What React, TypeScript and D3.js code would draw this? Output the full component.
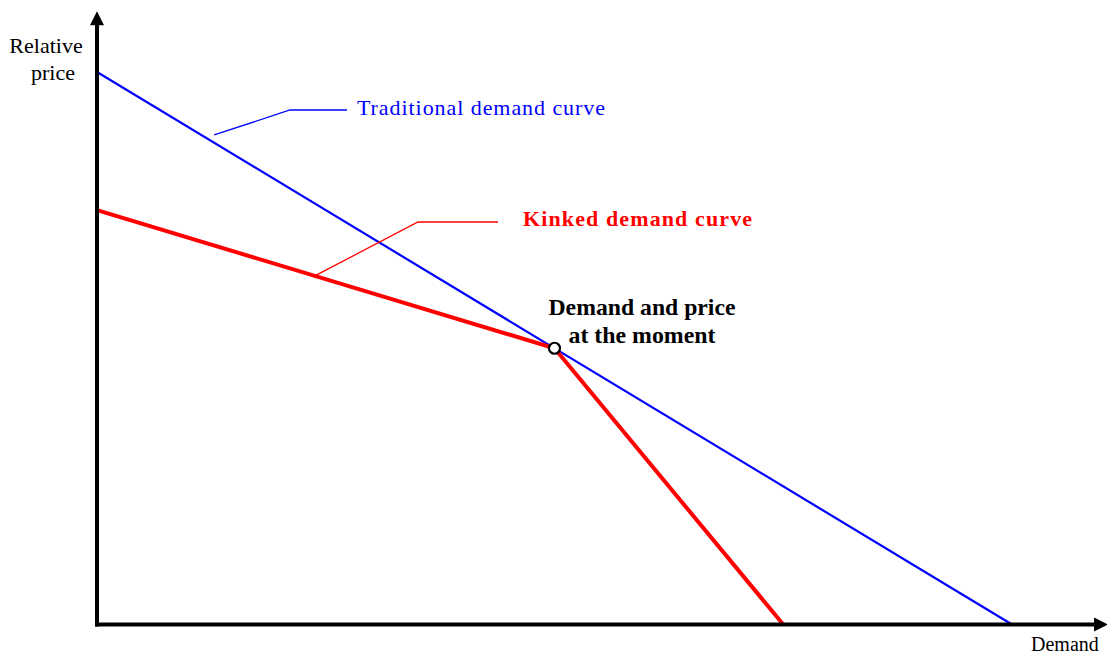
import React from "react";
import * as d3 from "d3";

const traditionalCurve: [number, number][] = [[0, 100], [100, 0]];
const kinkedCurve: [number, number][] = [[0, 75], [50, 50], [75, 0]];
const currentPoint: [number, number] = [50, 50];
const axisMax = { q: 110.5, p: 111 };
const labels = {
  yAxis: ["Relative", "price"],
  xAxis: "Demand",
  traditional: "Traditional demand curve",
  kinked: "Kinked demand curve",
  point: ["Demand and price", "at the moment"],
};

const W = 1107;
const H = 657;

export default function App() {
  const x = d3.scaleLinear().domain([0, 100]).range([97, 1012]);
  const y = d3.scaleLinear().domain([0, 100]).range([624.5, 72]);
  const line = d3
    .line<[number, number]>()
    .x((d) => x(d[0]))
    .y((d) => y(d[1]));

  const x0 = x(0);
  const y0 = y(0);
  const xEnd = x(axisMax.q);
  const yTop = y(axisMax.p);
  const font = "'Liberation Serif', 'Times New Roman', serif";

  return (
    <svg
      width={W}
      height={H}
      style={{ position: "absolute", left: 0, top: 0, display: "block" }}
      fontFamily={font}
    >
      <rect width={W} height={H} fill="white" />
      {/* curves */}
      <path d={line(traditionalCurve) || ""} fill="none" stroke="#0000ff" strokeWidth={2.2} />
      <path d={line(kinkedCurve) || ""} fill="none" stroke="#ff0000" strokeWidth={4} strokeLinejoin="miter" />

      {/* axes */}
      <line x1={x0} y1={y0 + 2} x2={x0} y2={yTop + 12} stroke="black" strokeWidth={4} />
      <path d={`M${x0},${yTop} L${x0 - 7},${yTop + 14} L${x0 + 7},${yTop + 14} Z`} fill="black" />
      <line x1={x0 - 2} y1={y0} x2={xEnd - 12} y2={y0} stroke="black" strokeWidth={4} />
      <path d={`M${xEnd},${y0} L${xEnd - 14},${y0 - 7} L${xEnd - 14},${y0 + 7} Z`} fill="black" />

      {/* leader lines */}
      <polyline
        points={`${x(12.8)},${y(88.6)} 290,110 347,110`}
        fill="none"
        stroke="#0000ff"
        strokeWidth={1.3}
      />
      <polyline
        points={`${x(23.8)},${y(63.1)} 418,222 498,222`}
        fill="none"
        stroke="#ff0000"
        strokeWidth={1.3}
      />

      {/* kink point */}
      <circle cx={x(currentPoint[0])} cy={y(currentPoint[1])} r={5.5} fill="white" stroke="black" strokeWidth={2.2} />

      {/* texts */}
      <text x={357} y={115} fontSize={22} fill="#0000ff" textLength={248} lengthAdjust="spacing">
        {labels.traditional}
      </text>
      <text x={523} y={226} fontSize={22} fontWeight="bold" fill="#ff0000" textLength={229} lengthAdjust="spacing">
        {labels.kinked}
      </text>
      <text x={642} y={315} fontSize={23} fontWeight="bold" fill="black" textAnchor="middle" textLength={187} lengthAdjust="spacingAndGlyphs">
        {labels.point[0]}
      </text>
      <text x={642} y={343} fontSize={23} fontWeight="bold" fill="black" textAnchor="middle" textLength={147} lengthAdjust="spacingAndGlyphs">
        {labels.point[1]}
      </text>
      <text x={46} y={53} fontSize={22} fill="black" textAnchor="middle">
        {labels.yAxis[0]}
      </text>
      <text x={53} y={80} fontSize={22} fill="black" textAnchor="middle">
        {labels.yAxis[1]}
      </text>
      <text x={1031} y={651} fontSize={20} fill="black">
        {labels.xAxis}
      </text>
    </svg>
  );
}
